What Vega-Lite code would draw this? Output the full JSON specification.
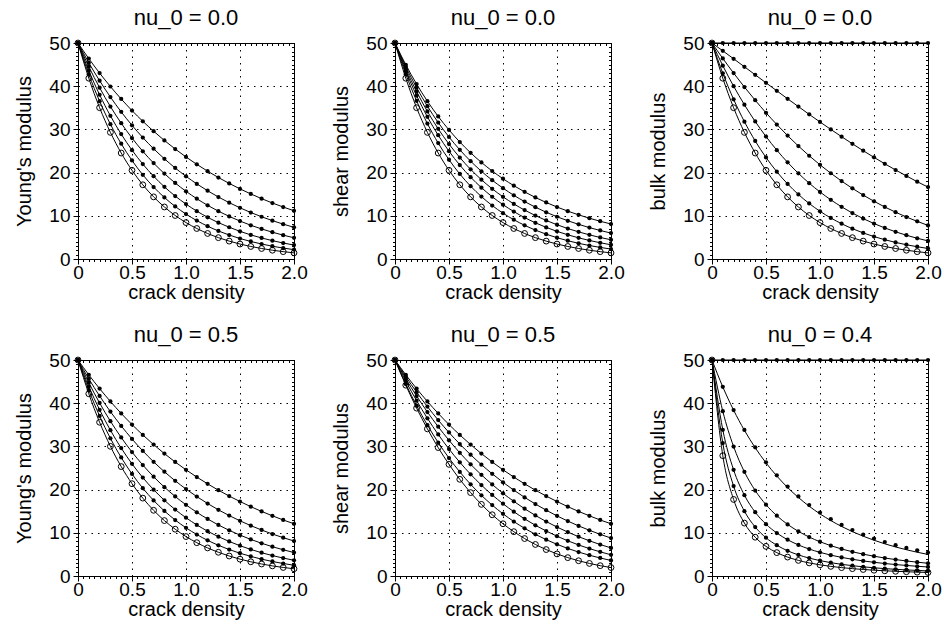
{
"$schema": "https://vega.github.io/schema/vega-lite/v6.json",
"padding": {"left": 14, "top": 6, "right": 5, "bottom": 5},
"background": "white",
"datasets": {"d": [
{"p":1,"c":0,"x":0,"y":50},{"p":1,"c":0,"x":0.1,"y":46.39},{"p":1,"c":0,"x":0.2,"y":43.04},{"p":1,"c":0,"x":0.3,"y":39.93},{"p":1,"c":0,"x":0.4,"y":37.04},{"p":1,"c":0,"x":0.5,"y":34.36},{"p":1,"c":0,"x":0.6,"y":31.88},{"p":1,"c":0,"x":0.7,"y":29.58},{"p":1,"c":0,"x":0.8,"y":27.44},{"p":1,"c":0,"x":0.9,"y":25.46},{"p":1,"c":0,"x":1,"y":23.62},{"p":1,"c":0,"x":1.1,"y":21.91},{"p":1,"c":0,"x":1.2,"y":20.33},{"p":1,"c":0,"x":1.3,"y":18.86},{"p":1,"c":0,"x":1.4,"y":17.5},{"p":1,"c":0,"x":1.5,"y":16.23},{"p":1,"c":0,"x":1.6,"y":15.06},{"p":1,"c":0,"x":1.7,"y":13.97},{"p":1,"c":0,"x":1.8,"y":12.96},{"p":1,"c":0,"x":1.9,"y":12.03},{"p":1,"c":0,"x":2,"y":11.16},
{"p":1,"c":1,"x":0,"y":50},{"p":1,"c":1,"x":0.1,"y":45.42},{"p":1,"c":1,"x":0.2,"y":41.27},{"p":1,"c":1,"x":0.3,"y":37.49},{"p":1,"c":1,"x":0.4,"y":34.06},{"p":1,"c":1,"x":0.5,"y":30.94},{"p":1,"c":1,"x":0.6,"y":28.11},{"p":1,"c":1,"x":0.7,"y":25.53},{"p":1,"c":1,"x":0.8,"y":23.2},{"p":1,"c":1,"x":0.9,"y":21.07},{"p":1,"c":1,"x":1,"y":19.14},{"p":1,"c":1,"x":1.1,"y":17.39},{"p":1,"c":1,"x":1.2,"y":15.8},{"p":1,"c":1,"x":1.3,"y":14.35},{"p":1,"c":1,"x":1.4,"y":13.04},{"p":1,"c":1,"x":1.5,"y":11.85},{"p":1,"c":1,"x":1.6,"y":10.76},{"p":1,"c":1,"x":1.7,"y":9.78},{"p":1,"c":1,"x":1.8,"y":8.88},{"p":1,"c":1,"x":1.9,"y":8.07},{"p":1,"c":1,"x":2,"y":7.33},
{"p":1,"c":2,"x":0,"y":50},{"p":1,"c":2,"x":0.1,"y":44.52},{"p":1,"c":2,"x":0.2,"y":39.65},{"p":1,"c":2,"x":0.3,"y":35.3},{"p":1,"c":2,"x":0.4,"y":31.44},{"p":1,"c":2,"x":0.5,"y":28},{"p":1,"c":2,"x":0.6,"y":24.93},{"p":1,"c":2,"x":0.7,"y":22.2},{"p":1,"c":2,"x":0.8,"y":19.77},{"p":1,"c":2,"x":0.9,"y":17.6},{"p":1,"c":2,"x":1,"y":15.67},{"p":1,"c":2,"x":1.1,"y":13.96},{"p":1,"c":2,"x":1.2,"y":12.43},{"p":1,"c":2,"x":1.3,"y":11.07},{"p":1,"c":2,"x":1.4,"y":9.86},{"p":1,"c":2,"x":1.5,"y":8.78},{"p":1,"c":2,"x":1.6,"y":7.81},{"p":1,"c":2,"x":1.7,"y":6.96},{"p":1,"c":2,"x":1.8,"y":6.2},{"p":1,"c":2,"x":1.9,"y":5.52},{"p":1,"c":2,"x":2,"y":4.91},
{"p":1,"c":3,"x":0,"y":50},{"p":1,"c":3,"x":0.1,"y":43.6},{"p":1,"c":3,"x":0.2,"y":38.02},{"p":1,"c":3,"x":0.3,"y":33.15},{"p":1,"c":3,"x":0.4,"y":28.91},{"p":1,"c":3,"x":0.5,"y":25.2},{"p":1,"c":3,"x":0.6,"y":21.98},{"p":1,"c":3,"x":0.7,"y":19.16},{"p":1,"c":3,"x":0.8,"y":16.71},{"p":1,"c":3,"x":0.9,"y":14.57},{"p":1,"c":3,"x":1,"y":12.71},{"p":1,"c":3,"x":1.1,"y":11.08},{"p":1,"c":3,"x":1.2,"y":9.66},{"p":1,"c":3,"x":1.3,"y":8.42},{"p":1,"c":3,"x":1.4,"y":7.35},{"p":1,"c":3,"x":1.5,"y":6.4},{"p":1,"c":3,"x":1.6,"y":5.58},{"p":1,"c":3,"x":1.7,"y":4.87},{"p":1,"c":3,"x":1.8,"y":4.25},{"p":1,"c":3,"x":1.9,"y":3.7},{"p":1,"c":3,"x":2,"y":3.23},
{"p":1,"c":4,"x":0,"y":50},{"p":1,"c":4,"x":0.1,"y":42.74},{"p":1,"c":4,"x":0.2,"y":36.53},{"p":1,"c":4,"x":0.3,"y":31.22},{"p":1,"c":4,"x":0.4,"y":26.68},{"p":1,"c":4,"x":0.5,"y":22.81},{"p":1,"c":4,"x":0.6,"y":19.49},{"p":1,"c":4,"x":0.7,"y":16.66},{"p":1,"c":4,"x":0.8,"y":14.24},{"p":1,"c":4,"x":0.9,"y":12.17},{"p":1,"c":4,"x":1,"y":10.4},{"p":1,"c":4,"x":1.1,"y":8.89},{"p":1,"c":4,"x":1.2,"y":7.6},{"p":1,"c":4,"x":1.3,"y":6.49},{"p":1,"c":4,"x":1.4,"y":5.55},{"p":1,"c":4,"x":1.5,"y":4.74},{"p":1,"c":4,"x":1.6,"y":4.06},{"p":1,"c":4,"x":1.7,"y":3.47},{"p":1,"c":4,"x":1.8,"y":2.96},{"p":1,"c":4,"x":1.9,"y":2.53},{"p":1,"c":4,"x":2,"y":2.16},
{"p":1,"c":5,"x":0,"y":50},{"p":1,"c":5,"x":0.1,"y":41.85},{"p":1,"c":5,"x":0.2,"y":35.02},{"p":1,"c":5,"x":0.3,"y":29.31},{"p":1,"c":5,"x":0.4,"y":24.53},{"p":1,"c":5,"x":0.5,"y":20.53},{"p":1,"c":5,"x":0.6,"y":17.18},{"p":1,"c":5,"x":0.7,"y":14.38},{"p":1,"c":5,"x":0.8,"y":12.04},{"p":1,"c":5,"x":0.9,"y":10.07},{"p":1,"c":5,"x":1,"y":8.43},{"p":1,"c":5,"x":1.1,"y":7.06},{"p":1,"c":5,"x":1.2,"y":5.91},{"p":1,"c":5,"x":1.3,"y":4.94},{"p":1,"c":5,"x":1.4,"y":4.14},{"p":1,"c":5,"x":1.5,"y":3.46},{"p":1,"c":5,"x":1.6,"y":2.9},{"p":1,"c":5,"x":1.7,"y":2.43},{"p":1,"c":5,"x":1.8,"y":2.03},{"p":1,"c":5,"x":1.9,"y":1.7},{"p":1,"c":5,"x":2,"y":1.42},
{"p":2,"c":0,"x":0,"y":50},{"p":2,"c":0,"x":0.1,"y":44.96},{"p":2,"c":0,"x":0.2,"y":40.5},{"p":2,"c":0,"x":0.3,"y":36.53},{"p":2,"c":0,"x":0.4,"y":33.01},{"p":2,"c":0,"x":0.5,"y":29.88},{"p":2,"c":0,"x":0.6,"y":27.08},{"p":2,"c":0,"x":0.7,"y":24.59},{"p":2,"c":0,"x":0.8,"y":22.36},{"p":2,"c":0,"x":0.9,"y":20.37},{"p":2,"c":0,"x":1,"y":18.58},{"p":2,"c":0,"x":1.1,"y":16.98},{"p":2,"c":0,"x":1.2,"y":15.54},{"p":2,"c":0,"x":1.3,"y":14.24},{"p":2,"c":0,"x":1.4,"y":13.08},{"p":2,"c":0,"x":1.5,"y":12.03},{"p":2,"c":0,"x":1.6,"y":11.08},{"p":2,"c":0,"x":1.7,"y":10.22},{"p":2,"c":0,"x":1.8,"y":9.44},{"p":2,"c":0,"x":1.9,"y":8.74},{"p":2,"c":0,"x":2,"y":8.1},
{"p":2,"c":1,"x":0,"y":50},{"p":2,"c":1,"x":0.1,"y":44.5},{"p":2,"c":1,"x":0.2,"y":39.66},{"p":2,"c":1,"x":0.3,"y":35.37},{"p":2,"c":1,"x":0.4,"y":31.59},{"p":2,"c":1,"x":0.5,"y":28.24},{"p":2,"c":1,"x":0.6,"y":25.28},{"p":2,"c":1,"x":0.7,"y":22.65},{"p":2,"c":1,"x":0.8,"y":20.31},{"p":2,"c":1,"x":0.9,"y":18.24},{"p":2,"c":1,"x":1,"y":16.4},{"p":2,"c":1,"x":1.1,"y":14.75},{"p":2,"c":1,"x":1.2,"y":13.29},{"p":2,"c":1,"x":1.3,"y":11.99},{"p":2,"c":1,"x":1.4,"y":10.82},{"p":2,"c":1,"x":1.5,"y":9.78},{"p":2,"c":1,"x":1.6,"y":8.85},{"p":2,"c":1,"x":1.7,"y":8.02},{"p":2,"c":1,"x":1.8,"y":7.27},{"p":2,"c":1,"x":1.9,"y":6.6},{"p":2,"c":1,"x":2,"y":6},
{"p":2,"c":2,"x":0,"y":50},{"p":2,"c":2,"x":0.1,"y":44.01},{"p":2,"c":2,"x":0.2,"y":38.76},{"p":2,"c":2,"x":0.3,"y":34.16},{"p":2,"c":2,"x":0.4,"y":30.13},{"p":2,"c":2,"x":0.5,"y":26.6},{"p":2,"c":2,"x":0.6,"y":23.49},{"p":2,"c":2,"x":0.7,"y":20.76},{"p":2,"c":2,"x":0.8,"y":18.36},{"p":2,"c":2,"x":0.9,"y":16.25},{"p":2,"c":2,"x":1,"y":14.4},{"p":2,"c":2,"x":1.1,"y":12.76},{"p":2,"c":2,"x":1.2,"y":11.32},{"p":2,"c":2,"x":1.3,"y":10.05},{"p":2,"c":2,"x":1.4,"y":8.92},{"p":2,"c":2,"x":1.5,"y":7.93},{"p":2,"c":2,"x":1.6,"y":7.05},{"p":2,"c":2,"x":1.7,"y":6.28},{"p":2,"c":2,"x":1.8,"y":5.59},{"p":2,"c":2,"x":1.9,"y":4.98},{"p":2,"c":2,"x":2,"y":4.45},
{"p":2,"c":3,"x":0,"y":50},{"p":2,"c":3,"x":0.1,"y":43.48},{"p":2,"c":3,"x":0.2,"y":37.82},{"p":2,"c":3,"x":0.3,"y":32.91},{"p":2,"c":3,"x":0.4,"y":28.65},{"p":2,"c":3,"x":0.5,"y":24.95},{"p":2,"c":3,"x":0.6,"y":21.74},{"p":2,"c":3,"x":0.7,"y":18.95},{"p":2,"c":3,"x":0.8,"y":16.52},{"p":2,"c":3,"x":0.9,"y":14.41},{"p":2,"c":3,"x":1,"y":12.58},{"p":2,"c":3,"x":1.1,"y":10.98},{"p":2,"c":3,"x":1.2,"y":9.59},{"p":2,"c":3,"x":1.3,"y":8.38},{"p":2,"c":3,"x":1.4,"y":7.32},{"p":2,"c":3,"x":1.5,"y":6.4},{"p":2,"c":3,"x":1.6,"y":5.6},{"p":2,"c":3,"x":1.7,"y":4.9},{"p":2,"c":3,"x":1.8,"y":4.29},{"p":2,"c":3,"x":1.9,"y":3.76},{"p":2,"c":3,"x":2,"y":3.29},
{"p":2,"c":4,"x":0,"y":50},{"p":2,"c":4,"x":0.1,"y":42.78},{"p":2,"c":4,"x":0.2,"y":36.61},{"p":2,"c":4,"x":0.3,"y":31.34},{"p":2,"c":4,"x":0.4,"y":26.83},{"p":2,"c":4,"x":0.5,"y":22.98},{"p":2,"c":4,"x":0.6,"y":19.68},{"p":2,"c":4,"x":0.7,"y":16.86},{"p":2,"c":4,"x":0.8,"y":14.45},{"p":2,"c":4,"x":0.9,"y":12.38},{"p":2,"c":4,"x":1,"y":10.61},{"p":2,"c":4,"x":1.1,"y":9.1},{"p":2,"c":4,"x":1.2,"y":7.8},{"p":2,"c":4,"x":1.3,"y":6.69},{"p":2,"c":4,"x":1.4,"y":5.74},{"p":2,"c":4,"x":1.5,"y":4.93},{"p":2,"c":4,"x":1.6,"y":4.23},{"p":2,"c":4,"x":1.7,"y":3.63},{"p":2,"c":4,"x":1.8,"y":3.12},{"p":2,"c":4,"x":1.9,"y":2.68},{"p":2,"c":4,"x":2,"y":2.3},
{"p":2,"c":5,"x":0,"y":50},{"p":2,"c":5,"x":0.1,"y":41.85},{"p":2,"c":5,"x":0.2,"y":35.02},{"p":2,"c":5,"x":0.3,"y":29.31},{"p":2,"c":5,"x":0.4,"y":24.53},{"p":2,"c":5,"x":0.5,"y":20.53},{"p":2,"c":5,"x":0.6,"y":17.18},{"p":2,"c":5,"x":0.7,"y":14.38},{"p":2,"c":5,"x":0.8,"y":12.04},{"p":2,"c":5,"x":0.9,"y":10.07},{"p":2,"c":5,"x":1,"y":8.43},{"p":2,"c":5,"x":1.1,"y":7.06},{"p":2,"c":5,"x":1.2,"y":5.91},{"p":2,"c":5,"x":1.3,"y":4.94},{"p":2,"c":5,"x":1.4,"y":4.14},{"p":2,"c":5,"x":1.5,"y":3.46},{"p":2,"c":5,"x":1.6,"y":2.9},{"p":2,"c":5,"x":1.7,"y":2.43},{"p":2,"c":5,"x":1.8,"y":2.03},{"p":2,"c":5,"x":1.9,"y":1.7},{"p":2,"c":5,"x":2,"y":1.42},
{"p":3,"c":0,"x":0,"y":50},{"p":3,"c":0,"x":0.1,"y":50},{"p":3,"c":0,"x":0.2,"y":50},{"p":3,"c":0,"x":0.3,"y":50},{"p":3,"c":0,"x":0.4,"y":50},{"p":3,"c":0,"x":0.5,"y":50},{"p":3,"c":0,"x":0.6,"y":50},{"p":3,"c":0,"x":0.7,"y":50},{"p":3,"c":0,"x":0.8,"y":50},{"p":3,"c":0,"x":0.9,"y":50},{"p":3,"c":0,"x":1,"y":50},{"p":3,"c":0,"x":1.1,"y":50},{"p":3,"c":0,"x":1.2,"y":50},{"p":3,"c":0,"x":1.3,"y":50},{"p":3,"c":0,"x":1.4,"y":50},{"p":3,"c":0,"x":1.5,"y":50},{"p":3,"c":0,"x":1.6,"y":50},{"p":3,"c":0,"x":1.7,"y":50},{"p":3,"c":0,"x":1.8,"y":50},{"p":3,"c":0,"x":1.9,"y":50},{"p":3,"c":0,"x":2,"y":50},
{"p":3,"c":1,"x":0,"y":50},{"p":3,"c":1,"x":0.1,"y":48.19},{"p":3,"c":1,"x":0.2,"y":46.35},{"p":3,"c":1,"x":0.3,"y":44.5},{"p":3,"c":1,"x":0.4,"y":42.64},{"p":3,"c":1,"x":0.5,"y":40.78},{"p":3,"c":1,"x":0.6,"y":38.93},{"p":3,"c":1,"x":0.7,"y":37.09},{"p":3,"c":1,"x":0.8,"y":35.28},{"p":3,"c":1,"x":0.9,"y":33.48},{"p":3,"c":1,"x":1,"y":31.72},{"p":3,"c":1,"x":1.1,"y":30},{"p":3,"c":1,"x":1.2,"y":28.31},{"p":3,"c":1,"x":1.3,"y":26.67},{"p":3,"c":1,"x":1.4,"y":25.07},{"p":3,"c":1,"x":1.5,"y":23.53},{"p":3,"c":1,"x":1.6,"y":22.04},{"p":3,"c":1,"x":1.7,"y":20.6},{"p":3,"c":1,"x":1.8,"y":19.23},{"p":3,"c":1,"x":1.9,"y":17.9},{"p":3,"c":1,"x":2,"y":16.64},
{"p":3,"c":2,"x":0,"y":50},{"p":3,"c":2,"x":0.1,"y":46.43},{"p":3,"c":2,"x":0.2,"y":43.04},{"p":3,"c":2,"x":0.3,"y":39.81},{"p":3,"c":2,"x":0.4,"y":36.75},{"p":3,"c":2,"x":0.5,"y":33.85},{"p":3,"c":2,"x":0.6,"y":31.13},{"p":3,"c":2,"x":0.7,"y":28.56},{"p":3,"c":2,"x":0.8,"y":26.15},{"p":3,"c":2,"x":0.9,"y":23.9},{"p":3,"c":2,"x":1,"y":21.8},{"p":3,"c":2,"x":1.1,"y":19.85},{"p":3,"c":2,"x":1.2,"y":18.03},{"p":3,"c":2,"x":1.3,"y":16.35},{"p":3,"c":2,"x":1.4,"y":14.79},{"p":3,"c":2,"x":1.5,"y":13.36},{"p":3,"c":2,"x":1.6,"y":12.04},{"p":3,"c":2,"x":1.7,"y":10.83},{"p":3,"c":2,"x":1.8,"y":9.72},{"p":3,"c":2,"x":1.9,"y":8.71},{"p":3,"c":2,"x":2,"y":7.78},
{"p":3,"c":3,"x":0,"y":50},{"p":3,"c":3,"x":0.1,"y":44.76},{"p":3,"c":3,"x":0.2,"y":40.01},{"p":3,"c":3,"x":0.3,"y":35.72},{"p":3,"c":3,"x":0.4,"y":31.84},{"p":3,"c":3,"x":0.5,"y":28.35},{"p":3,"c":3,"x":0.6,"y":25.2},{"p":3,"c":3,"x":0.7,"y":22.37},{"p":3,"c":3,"x":0.8,"y":19.83},{"p":3,"c":3,"x":0.9,"y":17.55},{"p":3,"c":3,"x":1,"y":15.52},{"p":3,"c":3,"x":1.1,"y":13.7},{"p":3,"c":3,"x":1.2,"y":12.08},{"p":3,"c":3,"x":1.3,"y":10.63},{"p":3,"c":3,"x":1.4,"y":9.35},{"p":3,"c":3,"x":1.5,"y":8.2},{"p":3,"c":3,"x":1.6,"y":7.19},{"p":3,"c":3,"x":1.7,"y":6.29},{"p":3,"c":3,"x":1.8,"y":5.5},{"p":3,"c":3,"x":1.9,"y":4.8},{"p":3,"c":3,"x":2,"y":4.19},
{"p":3,"c":4,"x":0,"y":50},{"p":3,"c":4,"x":0.1,"y":42.99},{"p":3,"c":4,"x":0.2,"y":36.97},{"p":3,"c":4,"x":0.3,"y":31.79},{"p":3,"c":4,"x":0.4,"y":27.33},{"p":3,"c":4,"x":0.5,"y":23.5},{"p":3,"c":4,"x":0.6,"y":20.21},{"p":3,"c":4,"x":0.7,"y":17.38},{"p":3,"c":4,"x":0.8,"y":14.94},{"p":3,"c":4,"x":0.9,"y":12.85},{"p":3,"c":4,"x":1,"y":11.05},{"p":3,"c":4,"x":1.1,"y":9.5},{"p":3,"c":4,"x":1.2,"y":8.17},{"p":3,"c":4,"x":1.3,"y":7.02},{"p":3,"c":4,"x":1.4,"y":6.04},{"p":3,"c":4,"x":1.5,"y":5.19},{"p":3,"c":4,"x":1.6,"y":4.46},{"p":3,"c":4,"x":1.7,"y":3.84},{"p":3,"c":4,"x":1.8,"y":3.3},{"p":3,"c":4,"x":1.9,"y":2.84},{"p":3,"c":4,"x":2,"y":2.44},
{"p":3,"c":5,"x":0,"y":50},{"p":3,"c":5,"x":0.1,"y":41.85},{"p":3,"c":5,"x":0.2,"y":35.02},{"p":3,"c":5,"x":0.3,"y":29.31},{"p":3,"c":5,"x":0.4,"y":24.53},{"p":3,"c":5,"x":0.5,"y":20.53},{"p":3,"c":5,"x":0.6,"y":17.18},{"p":3,"c":5,"x":0.7,"y":14.38},{"p":3,"c":5,"x":0.8,"y":12.04},{"p":3,"c":5,"x":0.9,"y":10.07},{"p":3,"c":5,"x":1,"y":8.43},{"p":3,"c":5,"x":1.1,"y":7.06},{"p":3,"c":5,"x":1.2,"y":5.91},{"p":3,"c":5,"x":1.3,"y":4.94},{"p":3,"c":5,"x":1.4,"y":4.14},{"p":3,"c":5,"x":1.5,"y":3.46},{"p":3,"c":5,"x":1.6,"y":2.9},{"p":3,"c":5,"x":1.7,"y":2.43},{"p":3,"c":5,"x":1.8,"y":2.03},{"p":3,"c":5,"x":1.9,"y":1.7},{"p":3,"c":5,"x":2,"y":1.42},
{"p":4,"c":0,"x":0,"y":50},{"p":4,"c":0,"x":0.1,"y":46.57},{"p":4,"c":0,"x":0.2,"y":43.38},{"p":4,"c":0,"x":0.3,"y":40.41},{"p":4,"c":0,"x":0.4,"y":37.64},{"p":4,"c":0,"x":0.5,"y":35.06},{"p":4,"c":0,"x":0.6,"y":32.66},{"p":4,"c":0,"x":0.7,"y":30.42},{"p":4,"c":0,"x":0.8,"y":28.33},{"p":4,"c":0,"x":0.9,"y":26.39},{"p":4,"c":0,"x":1,"y":24.58},{"p":4,"c":0,"x":1.1,"y":22.9},{"p":4,"c":0,"x":1.2,"y":21.33},{"p":4,"c":0,"x":1.3,"y":19.87},{"p":4,"c":0,"x":1.4,"y":18.5},{"p":4,"c":0,"x":1.5,"y":17.24},{"p":4,"c":0,"x":1.6,"y":16.05},{"p":4,"c":0,"x":1.7,"y":14.95},{"p":4,"c":0,"x":1.8,"y":13.93},{"p":4,"c":0,"x":1.9,"y":12.97},{"p":4,"c":0,"x":2,"y":12.09},
{"p":4,"c":1,"x":0,"y":50},{"p":4,"c":1,"x":0.1,"y":45.65},{"p":4,"c":1,"x":0.2,"y":41.68},{"p":4,"c":1,"x":0.3,"y":38.06},{"p":4,"c":1,"x":0.4,"y":34.75},{"p":4,"c":1,"x":0.5,"y":31.72},{"p":4,"c":1,"x":0.6,"y":28.96},{"p":4,"c":1,"x":0.7,"y":26.44},{"p":4,"c":1,"x":0.8,"y":24.14},{"p":4,"c":1,"x":0.9,"y":22.04},{"p":4,"c":1,"x":1,"y":20.13},{"p":4,"c":1,"x":1.1,"y":18.38},{"p":4,"c":1,"x":1.2,"y":16.78},{"p":4,"c":1,"x":1.3,"y":15.32},{"p":4,"c":1,"x":1.4,"y":13.99},{"p":4,"c":1,"x":1.5,"y":12.77},{"p":4,"c":1,"x":1.6,"y":11.66},{"p":4,"c":1,"x":1.7,"y":10.65},{"p":4,"c":1,"x":1.8,"y":9.72},{"p":4,"c":1,"x":1.9,"y":8.87},{"p":4,"c":1,"x":2,"y":8.1},
{"p":4,"c":2,"x":0,"y":50},{"p":4,"c":2,"x":0.1,"y":44.75},{"p":4,"c":2,"x":0.2,"y":40.05},{"p":4,"c":2,"x":0.3,"y":35.84},{"p":4,"c":2,"x":0.4,"y":32.07},{"p":4,"c":2,"x":0.5,"y":28.7},{"p":4,"c":2,"x":0.6,"y":25.69},{"p":4,"c":2,"x":0.7,"y":22.99},{"p":4,"c":2,"x":0.8,"y":20.57},{"p":4,"c":2,"x":0.9,"y":18.41},{"p":4,"c":2,"x":1,"y":16.48},{"p":4,"c":2,"x":1.1,"y":14.75},{"p":4,"c":2,"x":1.2,"y":13.2},{"p":4,"c":2,"x":1.3,"y":11.81},{"p":4,"c":2,"x":1.4,"y":10.57},{"p":4,"c":2,"x":1.5,"y":9.46},{"p":4,"c":2,"x":1.6,"y":8.47},{"p":4,"c":2,"x":1.7,"y":7.58},{"p":4,"c":2,"x":1.8,"y":6.78},{"p":4,"c":2,"x":1.9,"y":6.07},{"p":4,"c":2,"x":2,"y":5.43},
{"p":4,"c":3,"x":0,"y":50},{"p":4,"c":3,"x":0.1,"y":43.86},{"p":4,"c":3,"x":0.2,"y":38.48},{"p":4,"c":3,"x":0.3,"y":33.75},{"p":4,"c":3,"x":0.4,"y":29.61},{"p":4,"c":3,"x":0.5,"y":25.97},{"p":4,"c":3,"x":0.6,"y":22.78},{"p":4,"c":3,"x":0.7,"y":19.99},{"p":4,"c":3,"x":0.8,"y":17.53},{"p":4,"c":3,"x":0.9,"y":15.38},{"p":4,"c":3,"x":1,"y":13.49},{"p":4,"c":3,"x":1.1,"y":11.83},{"p":4,"c":3,"x":1.2,"y":10.38},{"p":4,"c":3,"x":1.3,"y":9.11},{"p":4,"c":3,"x":1.4,"y":7.99},{"p":4,"c":3,"x":1.5,"y":7.01},{"p":4,"c":3,"x":1.6,"y":6.15},{"p":4,"c":3,"x":1.7,"y":5.39},{"p":4,"c":3,"x":1.8,"y":4.73},{"p":4,"c":3,"x":1.9,"y":4.15},{"p":4,"c":3,"x":2,"y":3.64},
{"p":4,"c":4,"x":0,"y":50},{"p":4,"c":4,"x":0.1,"y":43.04},{"p":4,"c":4,"x":0.2,"y":37.04},{"p":4,"c":4,"x":0.3,"y":31.88},{"p":4,"c":4,"x":0.4,"y":27.44},{"p":4,"c":4,"x":0.5,"y":23.62},{"p":4,"c":4,"x":0.6,"y":20.33},{"p":4,"c":4,"x":0.7,"y":17.5},{"p":4,"c":4,"x":0.8,"y":15.06},{"p":4,"c":4,"x":0.9,"y":12.96},{"p":4,"c":4,"x":1,"y":11.16},{"p":4,"c":4,"x":1.1,"y":9.6},{"p":4,"c":4,"x":1.2,"y":8.26},{"p":4,"c":4,"x":1.3,"y":7.11},{"p":4,"c":4,"x":1.4,"y":6.12},{"p":4,"c":4,"x":1.5,"y":5.27},{"p":4,"c":4,"x":1.6,"y":4.54},{"p":4,"c":4,"x":1.7,"y":3.9},{"p":4,"c":4,"x":1.8,"y":3.36},{"p":4,"c":4,"x":1.9,"y":2.89},{"p":4,"c":4,"x":2,"y":2.49},
{"p":4,"c":5,"x":0,"y":50},{"p":4,"c":5,"x":0.1,"y":42.18},{"p":4,"c":5,"x":0.2,"y":35.59},{"p":4,"c":5,"x":0.3,"y":30.02},{"p":4,"c":5,"x":0.4,"y":25.33},{"p":4,"c":5,"x":0.5,"y":21.37},{"p":4,"c":5,"x":0.6,"y":18.03},{"p":4,"c":5,"x":0.7,"y":15.21},{"p":4,"c":5,"x":0.8,"y":12.83},{"p":4,"c":5,"x":0.9,"y":10.83},{"p":4,"c":5,"x":1,"y":9.13},{"p":4,"c":5,"x":1.1,"y":7.71},{"p":4,"c":5,"x":1.2,"y":6.5},{"p":4,"c":5,"x":1.3,"y":5.49},{"p":4,"c":5,"x":1.4,"y":4.63},{"p":4,"c":5,"x":1.5,"y":3.9},{"p":4,"c":5,"x":1.6,"y":3.29},{"p":4,"c":5,"x":1.7,"y":2.78},{"p":4,"c":5,"x":1.8,"y":2.34},{"p":4,"c":5,"x":1.9,"y":1.98},{"p":4,"c":5,"x":2,"y":1.67},
{"p":5,"c":0,"x":0,"y":50},{"p":5,"c":0,"x":0.1,"y":46.57},{"p":5,"c":0,"x":0.2,"y":43.38},{"p":5,"c":0,"x":0.3,"y":40.41},{"p":5,"c":0,"x":0.4,"y":37.64},{"p":5,"c":0,"x":0.5,"y":35.06},{"p":5,"c":0,"x":0.6,"y":32.66},{"p":5,"c":0,"x":0.7,"y":30.42},{"p":5,"c":0,"x":0.8,"y":28.33},{"p":5,"c":0,"x":0.9,"y":26.39},{"p":5,"c":0,"x":1,"y":24.58},{"p":5,"c":0,"x":1.1,"y":22.9},{"p":5,"c":0,"x":1.2,"y":21.33},{"p":5,"c":0,"x":1.3,"y":19.87},{"p":5,"c":0,"x":1.4,"y":18.5},{"p":5,"c":0,"x":1.5,"y":17.24},{"p":5,"c":0,"x":1.6,"y":16.05},{"p":5,"c":0,"x":1.7,"y":14.95},{"p":5,"c":0,"x":1.8,"y":13.93},{"p":5,"c":0,"x":1.9,"y":12.97},{"p":5,"c":0,"x":2,"y":12.09},
{"p":5,"c":1,"x":0,"y":50},{"p":5,"c":1,"x":0.1,"y":46.14},{"p":5,"c":1,"x":0.2,"y":42.55},{"p":5,"c":1,"x":0.3,"y":39.21},{"p":5,"c":1,"x":0.4,"y":36.1},{"p":5,"c":1,"x":0.5,"y":33.22},{"p":5,"c":1,"x":0.6,"y":30.55},{"p":5,"c":1,"x":0.7,"y":28.08},{"p":5,"c":1,"x":0.8,"y":25.78},{"p":5,"c":1,"x":0.9,"y":23.66},{"p":5,"c":1,"x":1,"y":21.69},{"p":5,"c":1,"x":1.1,"y":19.88},{"p":5,"c":1,"x":1.2,"y":18.2},{"p":5,"c":1,"x":1.3,"y":16.66},{"p":5,"c":1,"x":1.4,"y":15.23},{"p":5,"c":1,"x":1.5,"y":13.92},{"p":5,"c":1,"x":1.6,"y":12.71},{"p":5,"c":1,"x":1.7,"y":11.6},{"p":5,"c":1,"x":1.8,"y":10.58},{"p":5,"c":1,"x":1.9,"y":9.64},{"p":5,"c":1,"x":2,"y":8.78},
{"p":5,"c":2,"x":0,"y":50},{"p":5,"c":2,"x":0.1,"y":45.67},{"p":5,"c":2,"x":0.2,"y":41.66},{"p":5,"c":2,"x":0.3,"y":37.96},{"p":5,"c":2,"x":0.4,"y":34.55},{"p":5,"c":2,"x":0.5,"y":31.41},{"p":5,"c":2,"x":0.6,"y":28.52},{"p":5,"c":2,"x":0.7,"y":25.86},{"p":5,"c":2,"x":0.8,"y":23.42},{"p":5,"c":2,"x":0.9,"y":21.19},{"p":5,"c":2,"x":1,"y":19.14},{"p":5,"c":2,"x":1.1,"y":17.28},{"p":5,"c":2,"x":1.2,"y":15.57},{"p":5,"c":2,"x":1.3,"y":14.02},{"p":5,"c":2,"x":1.4,"y":12.61},{"p":5,"c":2,"x":1.5,"y":11.33},{"p":5,"c":2,"x":1.6,"y":10.16},{"p":5,"c":2,"x":1.7,"y":9.1},{"p":5,"c":2,"x":1.8,"y":8.15},{"p":5,"c":2,"x":1.9,"y":7.28},{"p":5,"c":2,"x":2,"y":6.5},
{"p":5,"c":3,"x":0,"y":50},{"p":5,"c":3,"x":0.1,"y":45.08},{"p":5,"c":3,"x":0.2,"y":40.59},{"p":5,"c":3,"x":0.3,"y":36.5},{"p":5,"c":3,"x":0.4,"y":32.77},{"p":5,"c":3,"x":0.5,"y":29.39},{"p":5,"c":3,"x":0.6,"y":26.33},{"p":5,"c":3,"x":0.7,"y":23.55},{"p":5,"c":3,"x":0.8,"y":21.04},{"p":5,"c":3,"x":0.9,"y":18.77},{"p":5,"c":3,"x":1,"y":16.73},{"p":5,"c":3,"x":1.1,"y":14.89},{"p":5,"c":3,"x":1.2,"y":13.23},{"p":5,"c":3,"x":1.3,"y":11.74},{"p":5,"c":3,"x":1.4,"y":10.41},{"p":5,"c":3,"x":1.5,"y":9.21},{"p":5,"c":3,"x":1.6,"y":8.15},{"p":5,"c":3,"x":1.7,"y":7.19},{"p":5,"c":3,"x":1.8,"y":6.34},{"p":5,"c":3,"x":1.9,"y":5.59},{"p":5,"c":3,"x":2,"y":4.91},
{"p":5,"c":4,"x":0,"y":50},{"p":5,"c":4,"x":0.1,"y":44.43},{"p":5,"c":4,"x":0.2,"y":39.42},{"p":5,"c":4,"x":0.3,"y":34.93},{"p":5,"c":4,"x":0.4,"y":30.9},{"p":5,"c":4,"x":0.5,"y":27.3},{"p":5,"c":4,"x":0.6,"y":24.09},{"p":5,"c":4,"x":0.7,"y":21.23},{"p":5,"c":4,"x":0.8,"y":18.68},{"p":5,"c":4,"x":0.9,"y":16.41},{"p":5,"c":4,"x":1,"y":14.4},{"p":5,"c":4,"x":1.1,"y":12.61},{"p":5,"c":4,"x":1.2,"y":11.04},{"p":5,"c":4,"x":1.3,"y":9.64},{"p":5,"c":4,"x":1.4,"y":8.41},{"p":5,"c":4,"x":1.5,"y":7.33},{"p":5,"c":4,"x":1.6,"y":6.38},{"p":5,"c":4,"x":1.7,"y":5.54},{"p":5,"c":4,"x":1.8,"y":4.81},{"p":5,"c":4,"x":1.9,"y":4.17},{"p":5,"c":4,"x":2,"y":3.6},
{"p":5,"c":5,"x":0,"y":50},{"p":5,"c":5,"x":0.1,"y":44.17},{"p":5,"c":5,"x":0.2,"y":38.86},{"p":5,"c":5,"x":0.3,"y":34.06},{"p":5,"c":5,"x":0.4,"y":29.73},{"p":5,"c":5,"x":0.5,"y":25.84},{"p":5,"c":5,"x":0.6,"y":22.38},{"p":5,"c":5,"x":0.7,"y":19.3},{"p":5,"c":5,"x":0.8,"y":16.58},{"p":5,"c":5,"x":0.9,"y":14.18},{"p":5,"c":5,"x":1,"y":12.09},{"p":5,"c":5,"x":1.1,"y":10.26},{"p":5,"c":5,"x":1.2,"y":8.67},{"p":5,"c":5,"x":1.3,"y":7.3},{"p":5,"c":5,"x":1.4,"y":6.12},{"p":5,"c":5,"x":1.5,"y":5.11},{"p":5,"c":5,"x":1.6,"y":4.25},{"p":5,"c":5,"x":1.7,"y":3.53},{"p":5,"c":5,"x":1.8,"y":2.91},{"p":5,"c":5,"x":1.9,"y":2.39},{"p":5,"c":5,"x":2,"y":1.96},
{"p":6,"c":0,"x":0,"y":50},{"p":6,"c":0,"x":0.1,"y":50},{"p":6,"c":0,"x":0.2,"y":50},{"p":6,"c":0,"x":0.3,"y":50},{"p":6,"c":0,"x":0.4,"y":50},{"p":6,"c":0,"x":0.5,"y":50},{"p":6,"c":0,"x":0.6,"y":50},{"p":6,"c":0,"x":0.7,"y":50},{"p":6,"c":0,"x":0.8,"y":50},{"p":6,"c":0,"x":0.9,"y":50},{"p":6,"c":0,"x":1,"y":50},{"p":6,"c":0,"x":1.1,"y":50},{"p":6,"c":0,"x":1.2,"y":50},{"p":6,"c":0,"x":1.3,"y":50},{"p":6,"c":0,"x":1.4,"y":50},{"p":6,"c":0,"x":1.5,"y":50},{"p":6,"c":0,"x":1.6,"y":50},{"p":6,"c":0,"x":1.7,"y":50},{"p":6,"c":0,"x":1.8,"y":50},{"p":6,"c":0,"x":1.9,"y":50},{"p":6,"c":0,"x":2,"y":50},
{"p":6,"c":1,"t":"d","x":0,"y":50},{"p":6,"c":1,"t":"d","x":0.1,"y":43.78},{"p":6,"c":1,"t":"d","x":0.2,"y":38.42},{"p":6,"c":1,"t":"d","x":0.3,"y":33.8},{"p":6,"c":1,"t":"d","x":0.4,"y":29.8},{"p":6,"c":1,"t":"d","x":0.5,"y":26.33},{"p":6,"c":1,"t":"d","x":0.6,"y":23.32},{"p":6,"c":1,"t":"d","x":0.7,"y":20.7},{"p":6,"c":1,"t":"d","x":0.8,"y":18.42},{"p":6,"c":1,"t":"d","x":0.9,"y":16.43},{"p":6,"c":1,"t":"d","x":1,"y":14.69},{"p":6,"c":1,"t":"d","x":1.1,"y":13.16},{"p":6,"c":1,"t":"d","x":1.2,"y":11.82},{"p":6,"c":1,"t":"d","x":1.3,"y":10.64},{"p":6,"c":1,"t":"d","x":1.4,"y":9.6},{"p":6,"c":1,"t":"d","x":1.5,"y":8.68},{"p":6,"c":1,"t":"d","x":1.6,"y":7.87},{"p":6,"c":1,"t":"d","x":1.7,"y":7.14},{"p":6,"c":1,"t":"d","x":1.8,"y":6.51},{"p":6,"c":1,"t":"d","x":1.9,"y":5.94},{"p":6,"c":1,"t":"d","x":2,"y":5.43},
{"p":6,"c":1,"t":"f","x":0,"y":50},{"p":6,"c":1,"t":"f","x":0.1,"y":43.77},{"p":6,"c":1,"t":"f","x":0.2,"y":38.39},{"p":6,"c":1,"t":"f","x":0.3,"y":33.73},{"p":6,"c":1,"t":"f","x":0.4,"y":29.7},{"p":6,"c":1,"t":"f","x":0.5,"y":26.19},{"p":6,"c":1,"t":"f","x":0.6,"y":23.15},{"p":6,"c":1,"t":"f","x":0.7,"y":20.49},{"p":6,"c":1,"t":"f","x":0.8,"y":18.18},{"p":6,"c":1,"t":"f","x":0.9,"y":16.15},{"p":6,"c":1,"t":"f","x":1,"y":14.38},{"p":6,"c":1,"t":"f","x":1.1,"y":12.83},{"p":6,"c":1,"t":"f","x":1.2,"y":11.47},{"p":6,"c":1,"t":"f","x":1.3,"y":10.27},{"p":6,"c":1,"t":"f","x":1.4,"y":9.21},{"p":6,"c":1,"t":"f","x":1.5,"y":8.28},{"p":6,"c":1,"t":"f","x":1.6,"y":7.45},{"p":6,"c":1,"t":"f","x":1.7,"y":6.72},{"p":6,"c":1,"t":"f","x":1.8,"y":6.08},{"p":6,"c":1,"t":"f","x":1.9,"y":5.5},{"p":6,"c":1,"t":"f","x":2,"y":4.99},
{"p":6,"c":2,"x":0,"y":50},{"p":6,"c":2,"x":0.1,"y":38.14},{"p":6,"c":2,"x":0.2,"y":29.97},{"p":6,"c":2,"x":0.3,"y":24.11},{"p":6,"c":2,"x":0.4,"y":19.79},{"p":6,"c":2,"x":0.5,"y":16.51},{"p":6,"c":2,"x":0.6,"y":13.96},{"p":6,"c":2,"x":0.7,"y":11.95},{"p":6,"c":2,"x":0.8,"y":10.33},{"p":6,"c":2,"x":0.9,"y":9.01},{"p":6,"c":2,"x":1,"y":7.93},{"p":6,"c":2,"x":1.1,"y":7.02},{"p":6,"c":2,"x":1.2,"y":6.26},{"p":6,"c":2,"x":1.3,"y":5.61},{"p":6,"c":2,"x":1.4,"y":5.05},{"p":6,"c":2,"x":1.5,"y":4.58},{"p":6,"c":2,"x":1.6,"y":4.16},{"p":6,"c":2,"x":1.7,"y":3.8},{"p":6,"c":2,"x":1.8,"y":3.48},{"p":6,"c":2,"x":1.9,"y":3.2},{"p":6,"c":2,"x":2,"y":2.95},
{"p":6,"c":3,"x":0,"y":50},{"p":6,"c":3,"x":0.1,"y":33.85},{"p":6,"c":3,"x":0.2,"y":24.57},{"p":6,"c":3,"x":0.3,"y":18.72},{"p":6,"c":3,"x":0.4,"y":14.78},{"p":6,"c":3,"x":0.5,"y":12},{"p":6,"c":3,"x":0.6,"y":9.95},{"p":6,"c":3,"x":0.7,"y":8.4},{"p":6,"c":3,"x":0.8,"y":7.19},{"p":6,"c":3,"x":0.9,"y":6.24},{"p":6,"c":3,"x":1,"y":5.47},{"p":6,"c":3,"x":1.1,"y":4.83},{"p":6,"c":3,"x":1.2,"y":4.31},{"p":6,"c":3,"x":1.3,"y":3.87},{"p":6,"c":3,"x":1.4,"y":3.49},{"p":6,"c":3,"x":1.5,"y":3.17},{"p":6,"c":3,"x":1.6,"y":2.89},{"p":6,"c":3,"x":1.7,"y":2.65},{"p":6,"c":3,"x":1.8,"y":2.44},{"p":6,"c":3,"x":1.9,"y":2.25},{"p":6,"c":3,"x":2,"y":2.09},
{"p":6,"c":4,"x":0,"y":50},{"p":6,"c":4,"x":0.1,"y":30.76},{"p":6,"c":4,"x":0.2,"y":20.81},{"p":6,"c":4,"x":0.3,"y":15.01},{"p":6,"c":4,"x":0.4,"y":11.34},{"p":6,"c":4,"x":0.5,"y":8.86},{"p":6,"c":4,"x":0.6,"y":7.12},{"p":6,"c":4,"x":0.7,"y":5.84},{"p":6,"c":4,"x":0.8,"y":4.88},{"p":6,"c":4,"x":0.9,"y":4.14},{"p":6,"c":4,"x":1,"y":3.56},{"p":6,"c":4,"x":1.1,"y":3.09},{"p":6,"c":4,"x":1.2,"y":2.7},{"p":6,"c":4,"x":1.3,"y":2.39},{"p":6,"c":4,"x":1.4,"y":2.13},{"p":6,"c":4,"x":1.5,"y":1.9},{"p":6,"c":4,"x":1.6,"y":1.71},{"p":6,"c":4,"x":1.7,"y":1.55},{"p":6,"c":4,"x":1.8,"y":1.41},{"p":6,"c":4,"x":1.9,"y":1.29},{"p":6,"c":4,"x":2,"y":1.18},
{"p":6,"c":5,"x":0,"y":50},{"p":6,"c":5,"x":0.1,"y":27.85},{"p":6,"c":5,"x":0.2,"y":17.72},{"p":6,"c":5,"x":0.3,"y":12.25},{"p":6,"c":5,"x":0.4,"y":8.98},{"p":6,"c":5,"x":0.5,"y":6.86},{"p":6,"c":5,"x":0.6,"y":5.41},{"p":6,"c":5,"x":0.7,"y":4.38},{"p":6,"c":5,"x":0.8,"y":3.61},{"p":6,"c":5,"x":0.9,"y":3.03},{"p":6,"c":5,"x":1,"y":2.58},{"p":6,"c":5,"x":1.1,"y":2.23},{"p":6,"c":5,"x":1.2,"y":1.94},{"p":6,"c":5,"x":1.3,"y":1.7},{"p":6,"c":5,"x":1.4,"y":1.51},{"p":6,"c":5,"x":1.5,"y":1.34},{"p":6,"c":5,"x":1.6,"y":1.21},{"p":6,"c":5,"x":1.7,"y":1.09},{"p":6,"c":5,"x":1.8,"y":0.99},{"p":6,"c":5,"x":1.9,"y":0.9},{"p":6,"c":5,"x":2,"y":0.82}
]},
"data": {"name": "d"},
"columns": 3,
"spacing": {"row": 101, "column": 101},
"bounds": "flush",
"concat": [
{"title": "nu_0 = 0.0", "width": 216, "height": 216, "transform": [{"filter": "datum.p == 1"}],
 "layer": [
  {"transform": [{"filter": "datum.t != 'd'"}], "mark": {"type": "line", "color": "black", "strokeWidth": 1, "interpolate": "monotone"},
   "encoding": {"x": {"field": "x", "type": "quantitative", "scale": {"domain": [0, 2], "nice": false, "zero": false}, "axis": {"orient": "bottom", "values": [0, 0.5, 1, 1.5, 2], "title": "crack density", "labelExpr": "datum.value === 0 ? '0' : format(datum.value, '.1f')", "tickSize": 5, "labelPadding": -1, "labelFlush": false, "labelOverlap": false, "grid": true, "gridOpacity": {"condition": {"test": "datum.value > 0 && datum.value < 2", "value": 1}, "value": 0}, "gridDash": [1.5, 5], "gridColor": "black", "titlePadding": 0}},
    "y": {"field": "y", "type": "quantitative", "scale": {"domain": [0, 50], "nice": false}, "axis": {"orient": "left", "values": [0, 10, 20, 30, 40, 50], "title": "Young's modulus", "format": "d", "tickSize": 5, "labelPadding": 3, "labelFlush": false, "labelOverlap": false, "grid": true, "gridOpacity": {"condition": {"test": "datum.value > 0 && datum.value < 50", "value": 1}, "value": 0}, "gridDash": [1.5, 5], "gridColor": "black", "titlePadding": 14}},
    "detail": {"field": "c", "type": "nominal"}}},
  {"transform": [{"filter": "datum.t != 'f' && datum.c < 5"}], "mark": {"type": "point", "filled": true, "color": "black", "size": 18, "opacity": 1},
   "encoding": {"x": {"field": "x", "type": "quantitative", "scale": {"domain": [0, 2], "nice": false, "zero": false}, "axis": {"orient": "bottom", "values": [0,0.05,0.1,0.15,0.2,0.25,0.3,0.35,0.4,0.45,0.5,0.55,0.6,0.65,0.7,0.75,0.8,0.85,0.9,0.95,1,1.05,1.1,1.15,1.2,1.25,1.3,1.35,1.4,1.45,1.5,1.55,1.6,1.65,1.7,1.75,1.8,1.85,1.9,1.95,2], "labels": false, "title": null, "grid": false, "domain": false, "tickSize": 2.5}},
    "y": {"field": "y", "type": "quantitative", "scale": {"domain": [0, 50], "nice": false}, "axis": {"orient": "left", "values": [0,1,2,3,4,5,6,7,8,9,10,11,12,13,14,15,16,17,18,19,20,21,22,23,24,25,26,27,28,29,30,31,32,33,34,35,36,37,38,39,40,41,42,43,44,45,46,47,48,49,50], "labels": false, "title": null, "grid": false, "domain": false, "tickSize": 2.5}}}},
  {"transform": [{"filter": "datum.c == 5"}], "mark": {"type": "point", "filled": false, "color": "black", "size": 34, "strokeWidth": 1, "opacity": 1},
   "encoding": {"x": {"field": "x", "type": "quantitative", "scale": {"domain": [0, 2], "nice": false, "zero": false}, "axis": {"orient": "top", "values": [0,0.05,0.1,0.15,0.2,0.25,0.3,0.35,0.4,0.45,0.5,0.55,0.6,0.65,0.7,0.75,0.8,0.85,0.9,0.95,1,1.05,1.1,1.15,1.2,1.25,1.3,1.35,1.4,1.45,1.5,1.55,1.6,1.65,1.7,1.75,1.8,1.85,1.9,1.95,2], "labels": false, "title": null, "grid": false, "domain": true, "tickSize": -2.5}},
    "y": {"field": "y", "type": "quantitative", "scale": {"domain": [0, 50], "nice": false}, "axis": {"orient": "right", "values": [0,1,2,3,4,5,6,7,8,9,10,11,12,13,14,15,16,17,18,19,20,21,22,23,24,25,26,27,28,29,30,31,32,33,34,35,36,37,38,39,40,41,42,43,44,45,46,47,48,49,50], "labels": false, "title": null, "grid": false, "domain": true, "tickSize": -2.5}}}}
 ],
 "resolve": {"axis": {"x": "independent", "y": "independent"}}},
{"title": "nu_0 = 0.0", "width": 216, "height": 216, "transform": [{"filter": "datum.p == 2"}],
 "layer": [
  {"transform": [{"filter": "datum.t != 'd'"}], "mark": {"type": "line", "color": "black", "strokeWidth": 1, "interpolate": "monotone"},
   "encoding": {"x": {"field": "x", "type": "quantitative", "scale": {"domain": [0, 2], "nice": false, "zero": false}, "axis": {"orient": "bottom", "values": [0, 0.5, 1, 1.5, 2], "title": "crack density", "labelExpr": "datum.value === 0 ? '0' : format(datum.value, '.1f')", "tickSize": 5, "labelPadding": -1, "labelFlush": false, "labelOverlap": false, "grid": true, "gridOpacity": {"condition": {"test": "datum.value > 0 && datum.value < 2", "value": 1}, "value": 0}, "gridDash": [1.5, 5], "gridColor": "black", "titlePadding": 0}},
    "y": {"field": "y", "type": "quantitative", "scale": {"domain": [0, 50], "nice": false}, "axis": {"orient": "left", "values": [0, 10, 20, 30, 40, 50], "title": "shear modulus", "format": "d", "tickSize": 5, "labelPadding": 3, "labelFlush": false, "labelOverlap": false, "grid": true, "gridOpacity": {"condition": {"test": "datum.value > 0 && datum.value < 50", "value": 1}, "value": 0}, "gridDash": [1.5, 5], "gridColor": "black", "titlePadding": 14}},
    "detail": {"field": "c", "type": "nominal"}}},
  {"transform": [{"filter": "datum.t != 'f' && datum.c < 5"}], "mark": {"type": "point", "filled": true, "color": "black", "size": 18, "opacity": 1},
   "encoding": {"x": {"field": "x", "type": "quantitative", "scale": {"domain": [0, 2], "nice": false, "zero": false}, "axis": {"orient": "bottom", "values": [0,0.05,0.1,0.15,0.2,0.25,0.3,0.35,0.4,0.45,0.5,0.55,0.6,0.65,0.7,0.75,0.8,0.85,0.9,0.95,1,1.05,1.1,1.15,1.2,1.25,1.3,1.35,1.4,1.45,1.5,1.55,1.6,1.65,1.7,1.75,1.8,1.85,1.9,1.95,2], "labels": false, "title": null, "grid": false, "domain": false, "tickSize": 2.5}},
    "y": {"field": "y", "type": "quantitative", "scale": {"domain": [0, 50], "nice": false}, "axis": {"orient": "left", "values": [0,1,2,3,4,5,6,7,8,9,10,11,12,13,14,15,16,17,18,19,20,21,22,23,24,25,26,27,28,29,30,31,32,33,34,35,36,37,38,39,40,41,42,43,44,45,46,47,48,49,50], "labels": false, "title": null, "grid": false, "domain": false, "tickSize": 2.5}}}},
  {"transform": [{"filter": "datum.c == 5"}], "mark": {"type": "point", "filled": false, "color": "black", "size": 34, "strokeWidth": 1, "opacity": 1},
   "encoding": {"x": {"field": "x", "type": "quantitative", "scale": {"domain": [0, 2], "nice": false, "zero": false}, "axis": {"orient": "top", "values": [0,0.05,0.1,0.15,0.2,0.25,0.3,0.35,0.4,0.45,0.5,0.55,0.6,0.65,0.7,0.75,0.8,0.85,0.9,0.95,1,1.05,1.1,1.15,1.2,1.25,1.3,1.35,1.4,1.45,1.5,1.55,1.6,1.65,1.7,1.75,1.8,1.85,1.9,1.95,2], "labels": false, "title": null, "grid": false, "domain": true, "tickSize": -2.5}},
    "y": {"field": "y", "type": "quantitative", "scale": {"domain": [0, 50], "nice": false}, "axis": {"orient": "right", "values": [0,1,2,3,4,5,6,7,8,9,10,11,12,13,14,15,16,17,18,19,20,21,22,23,24,25,26,27,28,29,30,31,32,33,34,35,36,37,38,39,40,41,42,43,44,45,46,47,48,49,50], "labels": false, "title": null, "grid": false, "domain": true, "tickSize": -2.5}}}}
 ],
 "resolve": {"axis": {"x": "independent", "y": "independent"}}},
{"title": "nu_0 = 0.0", "width": 216, "height": 216, "transform": [{"filter": "datum.p == 3"}],
 "layer": [
  {"transform": [{"filter": "datum.t != 'd'"}], "mark": {"type": "line", "color": "black", "strokeWidth": 1, "interpolate": "monotone"},
   "encoding": {"x": {"field": "x", "type": "quantitative", "scale": {"domain": [0, 2], "nice": false, "zero": false}, "axis": {"orient": "bottom", "values": [0, 0.5, 1, 1.5, 2], "title": "crack density", "labelExpr": "datum.value === 0 ? '0' : format(datum.value, '.1f')", "tickSize": 5, "labelPadding": -1, "labelFlush": false, "labelOverlap": false, "grid": true, "gridOpacity": {"condition": {"test": "datum.value > 0 && datum.value < 2", "value": 1}, "value": 0}, "gridDash": [1.5, 5], "gridColor": "black", "titlePadding": 0}},
    "y": {"field": "y", "type": "quantitative", "scale": {"domain": [0, 50], "nice": false}, "axis": {"orient": "left", "values": [0, 10, 20, 30, 40, 50], "title": "bulk modulus", "format": "d", "tickSize": 5, "labelPadding": 3, "labelFlush": false, "labelOverlap": false, "grid": true, "gridOpacity": {"condition": {"test": "datum.value > 0 && datum.value < 50", "value": 1}, "value": 0}, "gridDash": [1.5, 5], "gridColor": "black", "titlePadding": 14}},
    "detail": {"field": "c", "type": "nominal"}}},
  {"transform": [{"filter": "datum.t != 'f' && datum.c < 5"}], "mark": {"type": "point", "filled": true, "color": "black", "size": 18, "opacity": 1},
   "encoding": {"x": {"field": "x", "type": "quantitative", "scale": {"domain": [0, 2], "nice": false, "zero": false}, "axis": {"orient": "bottom", "values": [0,0.05,0.1,0.15,0.2,0.25,0.3,0.35,0.4,0.45,0.5,0.55,0.6,0.65,0.7,0.75,0.8,0.85,0.9,0.95,1,1.05,1.1,1.15,1.2,1.25,1.3,1.35,1.4,1.45,1.5,1.55,1.6,1.65,1.7,1.75,1.8,1.85,1.9,1.95,2], "labels": false, "title": null, "grid": false, "domain": false, "tickSize": 2.5}},
    "y": {"field": "y", "type": "quantitative", "scale": {"domain": [0, 50], "nice": false}, "axis": {"orient": "left", "values": [0,1,2,3,4,5,6,7,8,9,10,11,12,13,14,15,16,17,18,19,20,21,22,23,24,25,26,27,28,29,30,31,32,33,34,35,36,37,38,39,40,41,42,43,44,45,46,47,48,49,50], "labels": false, "title": null, "grid": false, "domain": false, "tickSize": 2.5}}}},
  {"transform": [{"filter": "datum.c == 5"}], "mark": {"type": "point", "filled": false, "color": "black", "size": 34, "strokeWidth": 1, "opacity": 1},
   "encoding": {"x": {"field": "x", "type": "quantitative", "scale": {"domain": [0, 2], "nice": false, "zero": false}, "axis": {"orient": "top", "values": [0,0.05,0.1,0.15,0.2,0.25,0.3,0.35,0.4,0.45,0.5,0.55,0.6,0.65,0.7,0.75,0.8,0.85,0.9,0.95,1,1.05,1.1,1.15,1.2,1.25,1.3,1.35,1.4,1.45,1.5,1.55,1.6,1.65,1.7,1.75,1.8,1.85,1.9,1.95,2], "labels": false, "title": null, "grid": false, "domain": true, "tickSize": -2.5}},
    "y": {"field": "y", "type": "quantitative", "scale": {"domain": [0, 50], "nice": false}, "axis": {"orient": "right", "values": [0,1,2,3,4,5,6,7,8,9,10,11,12,13,14,15,16,17,18,19,20,21,22,23,24,25,26,27,28,29,30,31,32,33,34,35,36,37,38,39,40,41,42,43,44,45,46,47,48,49,50], "labels": false, "title": null, "grid": false, "domain": true, "tickSize": -2.5}}}}
 ],
 "resolve": {"axis": {"x": "independent", "y": "independent"}}},
{"title": "nu_0 = 0.5", "width": 216, "height": 216, "transform": [{"filter": "datum.p == 4"}],
 "layer": [
  {"transform": [{"filter": "datum.t != 'd'"}], "mark": {"type": "line", "color": "black", "strokeWidth": 1, "interpolate": "monotone"},
   "encoding": {"x": {"field": "x", "type": "quantitative", "scale": {"domain": [0, 2], "nice": false, "zero": false}, "axis": {"orient": "bottom", "values": [0, 0.5, 1, 1.5, 2], "title": "crack density", "labelExpr": "datum.value === 0 ? '0' : format(datum.value, '.1f')", "tickSize": 5, "labelPadding": -1, "labelFlush": false, "labelOverlap": false, "grid": true, "gridOpacity": {"condition": {"test": "datum.value > 0 && datum.value < 2", "value": 1}, "value": 0}, "gridDash": [1.5, 5], "gridColor": "black", "titlePadding": 0}},
    "y": {"field": "y", "type": "quantitative", "scale": {"domain": [0, 50], "nice": false}, "axis": {"orient": "left", "values": [0, 10, 20, 30, 40, 50], "title": "Young's modulus", "format": "d", "tickSize": 5, "labelPadding": 3, "labelFlush": false, "labelOverlap": false, "grid": true, "gridOpacity": {"condition": {"test": "datum.value > 0 && datum.value < 50", "value": 1}, "value": 0}, "gridDash": [1.5, 5], "gridColor": "black", "titlePadding": 14}},
    "detail": {"field": "c", "type": "nominal"}}},
  {"transform": [{"filter": "datum.t != 'f' && datum.c < 5"}], "mark": {"type": "point", "filled": true, "color": "black", "size": 18, "opacity": 1},
   "encoding": {"x": {"field": "x", "type": "quantitative", "scale": {"domain": [0, 2], "nice": false, "zero": false}, "axis": {"orient": "bottom", "values": [0,0.05,0.1,0.15,0.2,0.25,0.3,0.35,0.4,0.45,0.5,0.55,0.6,0.65,0.7,0.75,0.8,0.85,0.9,0.95,1,1.05,1.1,1.15,1.2,1.25,1.3,1.35,1.4,1.45,1.5,1.55,1.6,1.65,1.7,1.75,1.8,1.85,1.9,1.95,2], "labels": false, "title": null, "grid": false, "domain": false, "tickSize": 2.5}},
    "y": {"field": "y", "type": "quantitative", "scale": {"domain": [0, 50], "nice": false}, "axis": {"orient": "left", "values": [0,1,2,3,4,5,6,7,8,9,10,11,12,13,14,15,16,17,18,19,20,21,22,23,24,25,26,27,28,29,30,31,32,33,34,35,36,37,38,39,40,41,42,43,44,45,46,47,48,49,50], "labels": false, "title": null, "grid": false, "domain": false, "tickSize": 2.5}}}},
  {"transform": [{"filter": "datum.c == 5"}], "mark": {"type": "point", "filled": false, "color": "black", "size": 34, "strokeWidth": 1, "opacity": 1},
   "encoding": {"x": {"field": "x", "type": "quantitative", "scale": {"domain": [0, 2], "nice": false, "zero": false}, "axis": {"orient": "top", "values": [0,0.05,0.1,0.15,0.2,0.25,0.3,0.35,0.4,0.45,0.5,0.55,0.6,0.65,0.7,0.75,0.8,0.85,0.9,0.95,1,1.05,1.1,1.15,1.2,1.25,1.3,1.35,1.4,1.45,1.5,1.55,1.6,1.65,1.7,1.75,1.8,1.85,1.9,1.95,2], "labels": false, "title": null, "grid": false, "domain": true, "tickSize": -2.5}},
    "y": {"field": "y", "type": "quantitative", "scale": {"domain": [0, 50], "nice": false}, "axis": {"orient": "right", "values": [0,1,2,3,4,5,6,7,8,9,10,11,12,13,14,15,16,17,18,19,20,21,22,23,24,25,26,27,28,29,30,31,32,33,34,35,36,37,38,39,40,41,42,43,44,45,46,47,48,49,50], "labels": false, "title": null, "grid": false, "domain": true, "tickSize": -2.5}}}}
 ],
 "resolve": {"axis": {"x": "independent", "y": "independent"}}},
{"title": "nu_0 = 0.5", "width": 216, "height": 216, "transform": [{"filter": "datum.p == 5"}],
 "layer": [
  {"transform": [{"filter": "datum.t != 'd'"}], "mark": {"type": "line", "color": "black", "strokeWidth": 1, "interpolate": "monotone"},
   "encoding": {"x": {"field": "x", "type": "quantitative", "scale": {"domain": [0, 2], "nice": false, "zero": false}, "axis": {"orient": "bottom", "values": [0, 0.5, 1, 1.5, 2], "title": "crack density", "labelExpr": "datum.value === 0 ? '0' : format(datum.value, '.1f')", "tickSize": 5, "labelPadding": -1, "labelFlush": false, "labelOverlap": false, "grid": true, "gridOpacity": {"condition": {"test": "datum.value > 0 && datum.value < 2", "value": 1}, "value": 0}, "gridDash": [1.5, 5], "gridColor": "black", "titlePadding": 0}},
    "y": {"field": "y", "type": "quantitative", "scale": {"domain": [0, 50], "nice": false}, "axis": {"orient": "left", "values": [0, 10, 20, 30, 40, 50], "title": "shear modulus", "format": "d", "tickSize": 5, "labelPadding": 3, "labelFlush": false, "labelOverlap": false, "grid": true, "gridOpacity": {"condition": {"test": "datum.value > 0 && datum.value < 50", "value": 1}, "value": 0}, "gridDash": [1.5, 5], "gridColor": "black", "titlePadding": 14}},
    "detail": {"field": "c", "type": "nominal"}}},
  {"transform": [{"filter": "datum.t != 'f' && datum.c < 5"}], "mark": {"type": "point", "filled": true, "color": "black", "size": 18, "opacity": 1},
   "encoding": {"x": {"field": "x", "type": "quantitative", "scale": {"domain": [0, 2], "nice": false, "zero": false}, "axis": {"orient": "bottom", "values": [0,0.05,0.1,0.15,0.2,0.25,0.3,0.35,0.4,0.45,0.5,0.55,0.6,0.65,0.7,0.75,0.8,0.85,0.9,0.95,1,1.05,1.1,1.15,1.2,1.25,1.3,1.35,1.4,1.45,1.5,1.55,1.6,1.65,1.7,1.75,1.8,1.85,1.9,1.95,2], "labels": false, "title": null, "grid": false, "domain": false, "tickSize": 2.5}},
    "y": {"field": "y", "type": "quantitative", "scale": {"domain": [0, 50], "nice": false}, "axis": {"orient": "left", "values": [0,1,2,3,4,5,6,7,8,9,10,11,12,13,14,15,16,17,18,19,20,21,22,23,24,25,26,27,28,29,30,31,32,33,34,35,36,37,38,39,40,41,42,43,44,45,46,47,48,49,50], "labels": false, "title": null, "grid": false, "domain": false, "tickSize": 2.5}}}},
  {"transform": [{"filter": "datum.c == 5"}], "mark": {"type": "point", "filled": false, "color": "black", "size": 34, "strokeWidth": 1, "opacity": 1},
   "encoding": {"x": {"field": "x", "type": "quantitative", "scale": {"domain": [0, 2], "nice": false, "zero": false}, "axis": {"orient": "top", "values": [0,0.05,0.1,0.15,0.2,0.25,0.3,0.35,0.4,0.45,0.5,0.55,0.6,0.65,0.7,0.75,0.8,0.85,0.9,0.95,1,1.05,1.1,1.15,1.2,1.25,1.3,1.35,1.4,1.45,1.5,1.55,1.6,1.65,1.7,1.75,1.8,1.85,1.9,1.95,2], "labels": false, "title": null, "grid": false, "domain": true, "tickSize": -2.5}},
    "y": {"field": "y", "type": "quantitative", "scale": {"domain": [0, 50], "nice": false}, "axis": {"orient": "right", "values": [0,1,2,3,4,5,6,7,8,9,10,11,12,13,14,15,16,17,18,19,20,21,22,23,24,25,26,27,28,29,30,31,32,33,34,35,36,37,38,39,40,41,42,43,44,45,46,47,48,49,50], "labels": false, "title": null, "grid": false, "domain": true, "tickSize": -2.5}}}}
 ],
 "resolve": {"axis": {"x": "independent", "y": "independent"}}},
{"title": "nu_0 = 0.4", "width": 216, "height": 216, "transform": [{"filter": "datum.p == 6"}],
 "layer": [
  {"transform": [{"filter": "datum.t != 'd'"}], "mark": {"type": "line", "color": "black", "strokeWidth": 1, "interpolate": "monotone"},
   "encoding": {"x": {"field": "x", "type": "quantitative", "scale": {"domain": [0, 2], "nice": false, "zero": false}, "axis": {"orient": "bottom", "values": [0, 0.5, 1, 1.5, 2], "title": "crack density", "labelExpr": "datum.value === 0 ? '0' : format(datum.value, '.1f')", "tickSize": 5, "labelPadding": -1, "labelFlush": false, "labelOverlap": false, "grid": true, "gridOpacity": {"condition": {"test": "datum.value > 0 && datum.value < 2", "value": 1}, "value": 0}, "gridDash": [1.5, 5], "gridColor": "black", "titlePadding": 0}},
    "y": {"field": "y", "type": "quantitative", "scale": {"domain": [0, 50], "nice": false}, "axis": {"orient": "left", "values": [0, 10, 20, 30, 40, 50], "title": "bulk modulus", "format": "d", "tickSize": 5, "labelPadding": 3, "labelFlush": false, "labelOverlap": false, "grid": true, "gridOpacity": {"condition": {"test": "datum.value > 0 && datum.value < 50", "value": 1}, "value": 0}, "gridDash": [1.5, 5], "gridColor": "black", "titlePadding": 14}},
    "detail": {"field": "c", "type": "nominal"}}},
  {"transform": [{"filter": "datum.t != 'f' && datum.c < 5"}], "mark": {"type": "point", "filled": true, "color": "black", "size": 18, "opacity": 1},
   "encoding": {"x": {"field": "x", "type": "quantitative", "scale": {"domain": [0, 2], "nice": false, "zero": false}, "axis": {"orient": "bottom", "values": [0,0.05,0.1,0.15,0.2,0.25,0.3,0.35,0.4,0.45,0.5,0.55,0.6,0.65,0.7,0.75,0.8,0.85,0.9,0.95,1,1.05,1.1,1.15,1.2,1.25,1.3,1.35,1.4,1.45,1.5,1.55,1.6,1.65,1.7,1.75,1.8,1.85,1.9,1.95,2], "labels": false, "title": null, "grid": false, "domain": false, "tickSize": 2.5}},
    "y": {"field": "y", "type": "quantitative", "scale": {"domain": [0, 50], "nice": false}, "axis": {"orient": "left", "values": [0,1,2,3,4,5,6,7,8,9,10,11,12,13,14,15,16,17,18,19,20,21,22,23,24,25,26,27,28,29,30,31,32,33,34,35,36,37,38,39,40,41,42,43,44,45,46,47,48,49,50], "labels": false, "title": null, "grid": false, "domain": false, "tickSize": 2.5}}}},
  {"transform": [{"filter": "datum.c == 5"}], "mark": {"type": "point", "filled": false, "color": "black", "size": 34, "strokeWidth": 1, "opacity": 1},
   "encoding": {"x": {"field": "x", "type": "quantitative", "scale": {"domain": [0, 2], "nice": false, "zero": false}, "axis": {"orient": "top", "values": [0,0.05,0.1,0.15,0.2,0.25,0.3,0.35,0.4,0.45,0.5,0.55,0.6,0.65,0.7,0.75,0.8,0.85,0.9,0.95,1,1.05,1.1,1.15,1.2,1.25,1.3,1.35,1.4,1.45,1.5,1.55,1.6,1.65,1.7,1.75,1.8,1.85,1.9,1.95,2], "labels": false, "title": null, "grid": false, "domain": true, "tickSize": -2.5}},
    "y": {"field": "y", "type": "quantitative", "scale": {"domain": [0, 50], "nice": false}, "axis": {"orient": "right", "values": [0,1,2,3,4,5,6,7,8,9,10,11,12,13,14,15,16,17,18,19,20,21,22,23,24,25,26,27,28,29,30,31,32,33,34,35,36,37,38,39,40,41,42,43,44,45,46,47,48,49,50], "labels": false, "title": null, "grid": false, "domain": true, "tickSize": -2.5}}}}
 ],
 "resolve": {"axis": {"x": "independent", "y": "independent"}}}
],
"config": {
 "view": {"stroke": "black", "strokeWidth": 1},
 "font": "Liberation Sans",
 "axis": {"labelFont": "Liberation Sans", "labelFontSize": 19, "labelColor": "black", "titleFont": "Liberation Sans", "titleFontSize": 20, "titleFontWeight": "normal", "titleColor": "black", "domainColor": "black", "domainWidth": 1, "tickColor": "black", "tickWidth": 1, "gridWidth": 1},
 "title": {"font": "Liberation Sans", "fontSize": 22, "fontWeight": "normal", "color": "black", "anchor": "middle", "offset": 4}
}
}
